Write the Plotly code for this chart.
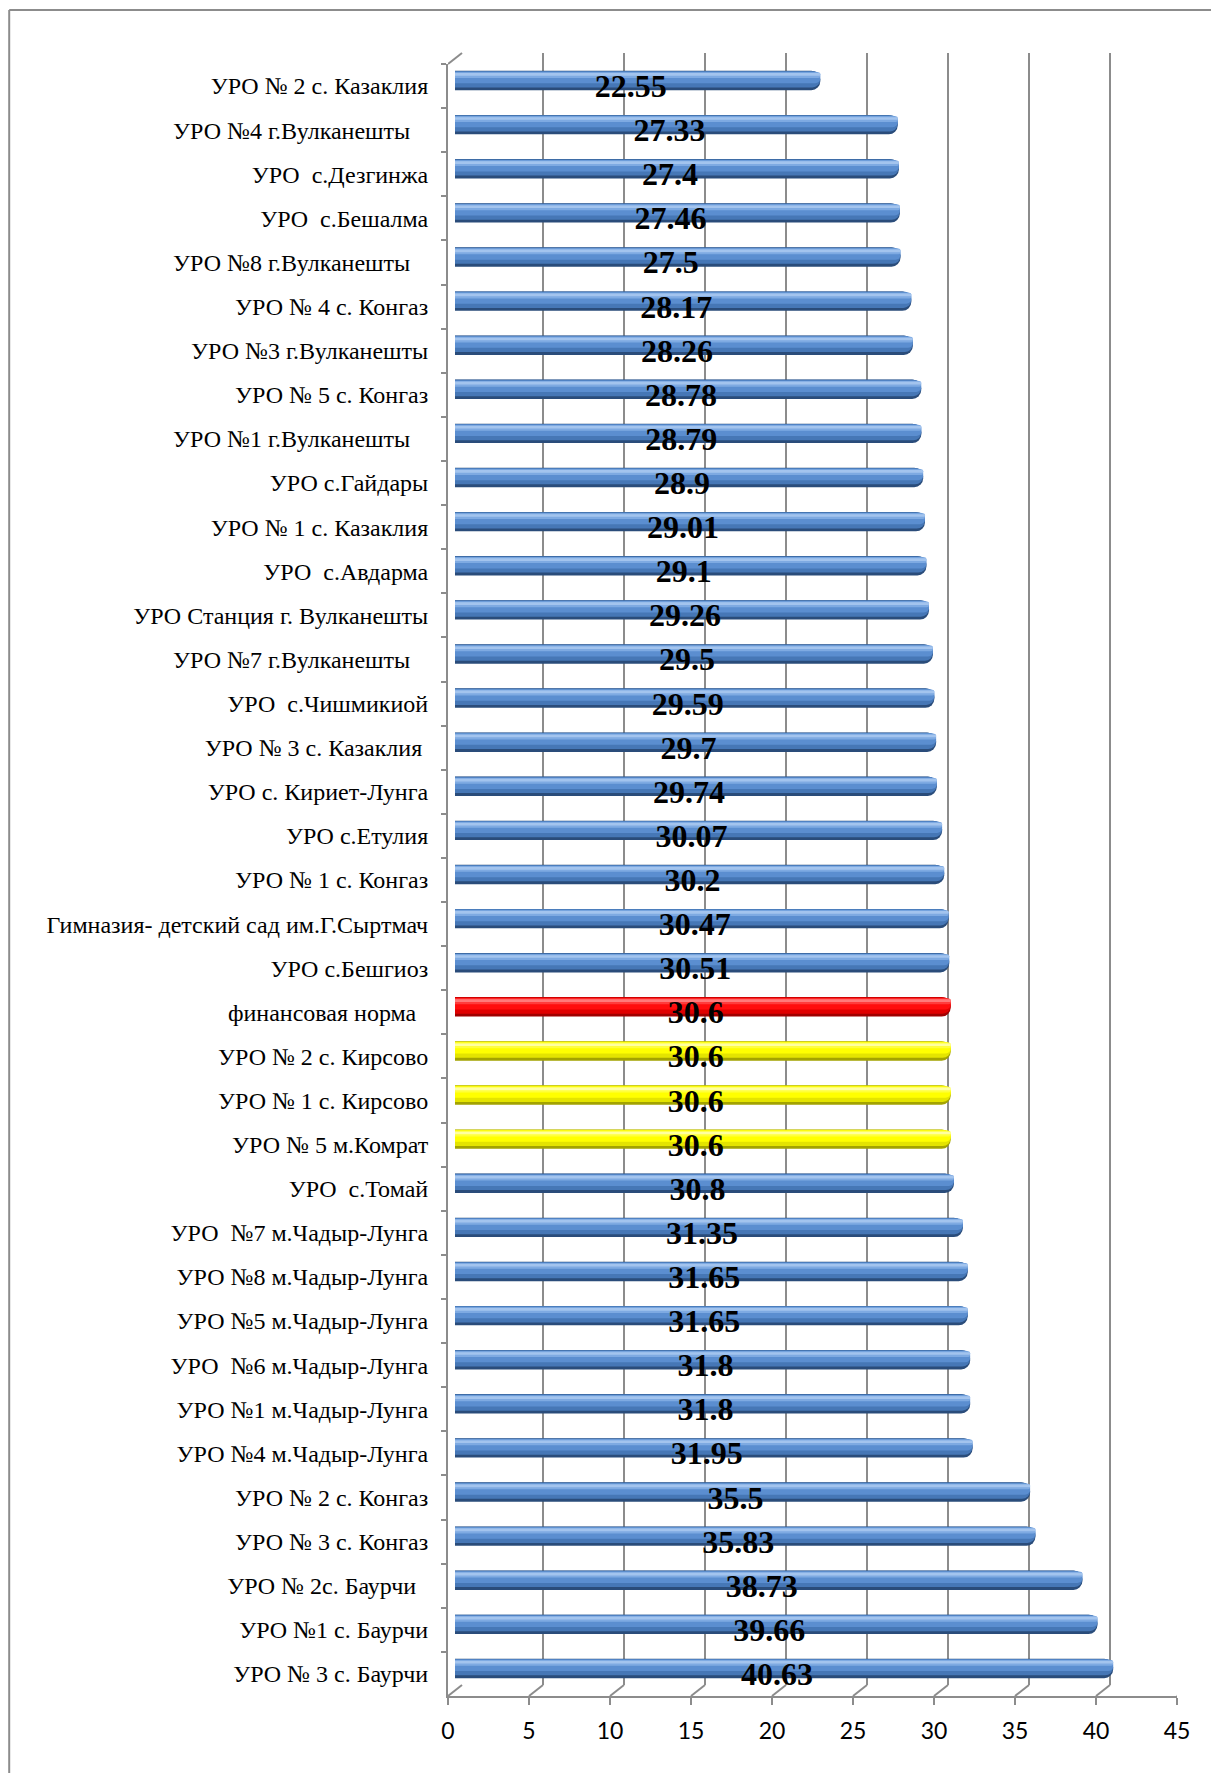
import plotly.graph_objects as go

# ---------------- data ----------------
NB = "\u00a0"
categories = [
    "УРО № 2 с. Казаклия",
    "УРО №4 г.Вулканешты" + NB * 3,
    "УРО" + NB * 2 + "с.Дезгинжа",
    "УРО" + NB * 2 + "с.Бешалма",
    "УРО №8 г.Вулканешты" + NB * 3,
    "УРО № 4 с. Конгаз",
    "УРО №3 г.Вулканешты",
    "УРО № 5 с. Конгаз",
    "УРО №1 г.Вулканешты" + NB * 3,
    "УРО с.Гайдары",
    "УРО № 1 с. Казаклия",
    "УРО" + NB * 2 + "с.Авдарма",
    "УРО Станция г. Вулканешты",
    "УРО №7 г.Вулканешты" + NB * 3,
    "УРО" + NB * 2 + "с.Чишмикиой",
    "УРО № 3 с. Казаклия" + NB,
    "УРО с. Кириет-Лунга",
    "УРО с.Етулия",
    "УРО № 1 с. Конгаз",
    "Гимназия- детский сад им.Г.Сыртмач",
    "УРО с.Бешгиоз",
    "финансовая норма" + NB * 2,
    "УРО № 2 с. Кирсово",
    "УРО № 1 с. Кирсово",
    "УРО № 5 м.Комрат",
    "УРО" + NB * 2 + "с.Томай",
    "УРО" + NB * 2 + "№7 м.Чадыр-Лунга",
    "УРО №8 м.Чадыр-Лунга",
    "УРО №5 м.Чадыр-Лунга",
    "УРО" + NB * 2 + "№6 м.Чадыр-Лунга",
    "УРО №1 м.Чадыр-Лунга",
    "УРО №4 м.Чадыр-Лунга",
    "УРО № 2 с. Конгаз",
    "УРО № 3 с. Конгаз",
    "УРО № 2с. Баурчи" + NB * 2,
    "УРО №1 с. Баурчи",
    "УРО № 3 с. Баурчи",
]
values = [22.55, 27.33, 27.4, 27.46, 27.5, 28.17, 28.26, 28.78, 28.79, 28.9,
          29.01, 29.1, 29.26, 29.5, 29.59, 29.7, 29.74, 30.07, 30.2, 30.47,
          30.51, 30.6, 30.6, 30.6, 30.6, 30.8, 31.35, 31.65, 31.65, 31.8,
          31.8, 31.95, 35.5, 35.83, 38.73, 39.66, 40.63]
norm_label = "финансовая норма"
x_ticks = [0, 5, 10, 15, 20, 25, 30, 35, 40, 45]

norm_value = [v for c, v in zip(categories, values)
              if c.replace(NB, " ").strip() == norm_label][0]

# ---------------- layout helpers (page has 8px body margin) ----------------
M = 8
W, H = 1219 - 2 * M, 1781 - 2 * M


def px(x):
    return (x - M) / W


def py(y):
    return 1 - (y - M) / H


def kind(c, v):
    if c.replace(NB, " ").strip() == norm_label:
        return "red"
    if v == norm_value:
        return "yellow"
    return "blue"


kinds = [kind(c, v) for c, v in zip(categories, values)]

palette = {
    "blue":   ["#2a4c7a", "#4677b6", "#5b8ed0", "#7eaae2", "#a3c4ee"],
    "red":    ["#a00000", "#e00000", "#ff0d0d", "#ff3c3c", "#ff7a7a"],
    "yellow": ["#a3a300", "#e4e400", "#ffff00", "#ffff3c", "#ffffa0"],
}
# (offset, width) in category units, cylinder shading layers (outer -> highlight)
layers = [(-0.22, 0.44), (-0.215, 0.37), (-0.2, 0.26), (-0.19, 0.13), (-0.17, 0.06)]
radii = [9, 8, 6, 4, 2]

fig = go.Figure()

# back wall (gridlines) subplot: x / y
fig.add_trace(go.Scatter(x=[], y=[], xaxis="x", yaxis="y", showlegend=False, hoverinfo="skip"))

# bars on middle-depth subplot: x2 / y2
for li, ((off, wd), r) in enumerate(zip(layers, radii)):
    fig.add_trace(go.Bar(
        x=values, y=categories, orientation="h",
        xaxis="x2", yaxis="y2",
        offset=off, width=wd,
        marker=dict(color=[palette[k][li] for k in kinds], line=dict(width=0), cornerradius=r),
        showlegend=False, hoverinfo="skip" if li else "x+y",
    ))

# data labels on front subplot: x3 / y3
fig.add_trace(go.Bar(
    x=values, y=categories, orientation="h",
    xaxis="x3", yaxis="y3", width=1.0,
    marker=dict(color="rgba(0,0,0,0)", line=dict(width=0)),
    texttemplate="%{x}", textposition="inside", insidetextanchor="middle",
    constraintext="none", textangle=0,
    insidetextfont=dict(family="Liberation Serif", size=32, color="black", weight="bold"),
    showlegend=False, hoverinfo="skip",
))

grid_col = "#8c8c8c"

fig.update_layout(
    width=W, height=H,
    margin=dict(l=0, r=0, t=0, b=0, pad=0, autoexpand=False),
    showlegend=False,
    paper_bgcolor="white", plot_bgcolor="rgba(0,0,0,0)",
    barmode="overlay",
    # back wall
    xaxis=dict(domain=[px(462), px(1191)], range=[0, 45], tickvals=x_ticks,
               showgrid=True, gridcolor=grid_col, gridwidth=2, zeroline=False,
               showticklabels=False, ticks="", showline=False, anchor="y",
               automargin=False, fixedrange=True),
    yaxis=dict(domain=[py(1685), py(53)], range=[0, 1], showgrid=False, zeroline=False,
               showticklabels=False, showline=False, anchor="x",
               automargin=False, fixedrange=True),
    # bars
    xaxis2=dict(domain=[px(455), px(1184)], range=[0, 45], showgrid=False, zeroline=False,
                showticklabels=False, showline=False, anchor="y2",
                automargin=False, fixedrange=True),
    yaxis2=dict(domain=[py(1690.5), py(58.5)], type="category", categoryorder="array",
                categoryarray=categories, autorange="reversed", showgrid=False,
                showticklabels=False, showline=False, anchor="x2",
                automargin=False, fixedrange=True),
    # front
    xaxis3=dict(domain=[px(448), px(1177)], range=[0, 45], tickvals=x_ticks,
                showgrid=False, zeroline=False, showline=True, linecolor=grid_col, linewidth=2,
                ticks="outside", ticklen=7, tickwidth=2, tickcolor=grid_col,
                ticklabelstandoff=6,
                tickfont=dict(family="Lato", size=23, color="black"),
                anchor="y3", automargin=False, fixedrange=True),
    yaxis3=dict(domain=[py(1696), py(64)], type="category", categoryorder="array",
                categoryarray=categories, autorange="reversed", showgrid=False,
                showline=True, linecolor=grid_col, linewidth=2,
                ticks="outside", ticklen=5, tickwidth=2, tickcolor=grid_col,
                tickson="boundaries", ticklabelstandoff=13,
                tickfont=dict(family="Liberation Serif", size=24, color="black"),
                anchor="x3", automargin=False, fixedrange=True),
)

shapes = []
# floor diagonals from front ticks to back gridlines
for v in x_ticks:
    shapes.append(dict(type="line", xref="x3", yref="y3 domain",
                       xsizemode="pixel", ysizemode="pixel",
                       xanchor=v, yanchor=0, x0=0, x1=14, y0=0, y1=11,
                       line=dict(color=grid_col, width=2)))
# top-left wall diagonal
shapes.append(dict(type="line", xref="x3", yref="y3 domain",
                   xsizemode="pixel", ysizemode="pixel",
                   xanchor=0, yanchor=1, x0=0, x1=14, y0=0, y1=11,
                   line=dict(color=grid_col, width=2)))
# outer chart frame (left and top edges)
shapes.append(dict(type="line", xref="paper", yref="paper",
                   x0=0.001, x1=0.001, y0=py(10), y1=0, line=dict(color=grid_col, width=2)))
shapes.append(dict(type="line", xref="paper", yref="paper",
                   x0=0.001, x1=1, y0=py(10), y1=py(10), line=dict(color=grid_col, width=2)))
fig.update_layout(shapes=shapes)

fig.write_html("out.html", config={"displayModeBar": False})
